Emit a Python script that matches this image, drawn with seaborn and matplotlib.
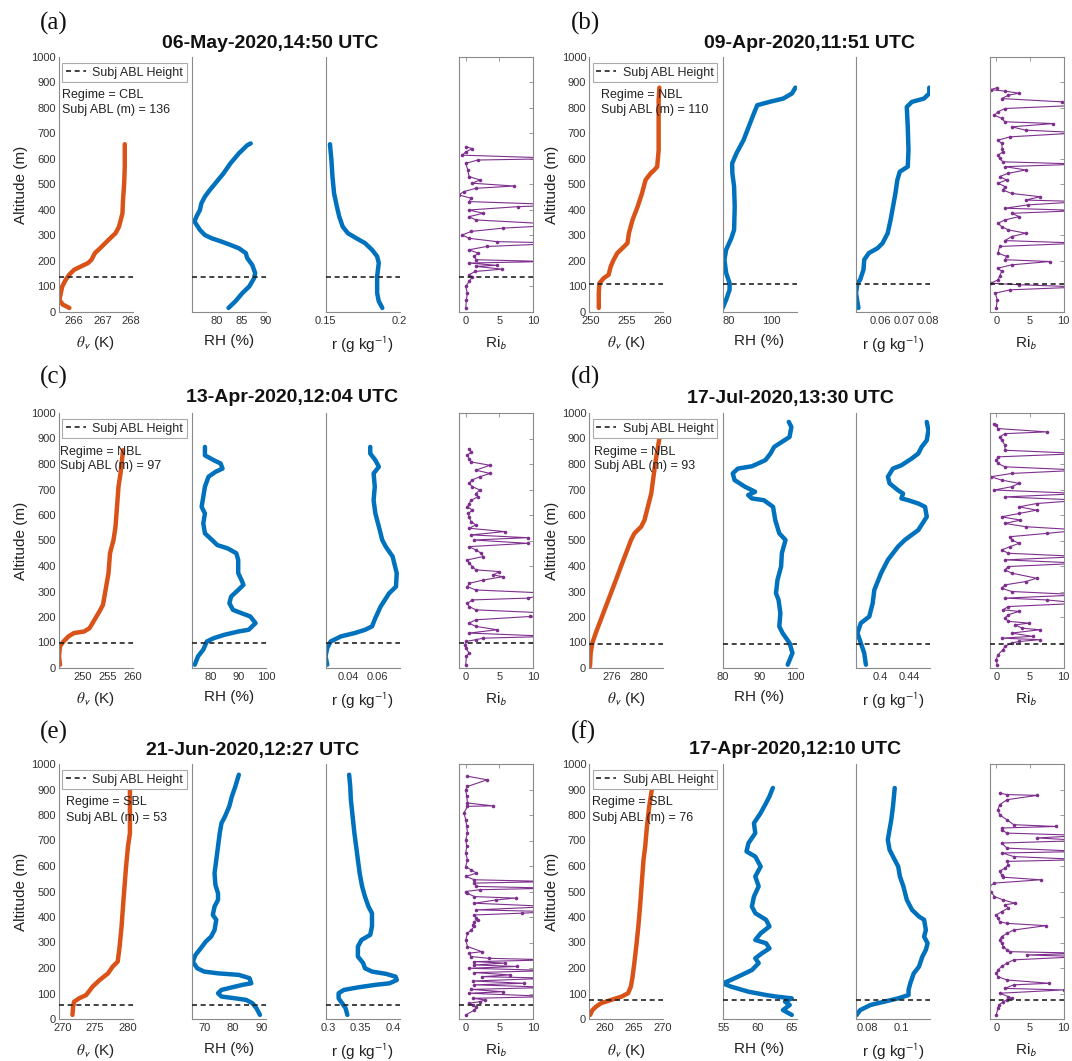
# ================================
# ABL PROFILES - SIX RADIOSONDE CASES
# ================================

import matplotlib
matplotlib.use("Agg")
import matplotlib.pyplot as plt
import seaborn as sns
from matplotlib.ticker import FuncFormatter

# --------------------------------
# Data
# --------------------------------

# (a) 06-May-2020
a_th_z = [16, 29, 48, 74, 100, 126, 146, 166, 179, 192, 205, 231, 250, 270, 290, 309, 335, 361, 387, 439, 505, 570, 658]
a_th = [265.85, 265.62, 265.5, 265.55, 265.6, 265.72, 265.84, 266.02, 266.26, 266.5, 266.62, 266.74, 266.92, 267.1,
        267.28, 267.46, 267.58, 267.64, 267.7, 267.72, 267.76, 267.78, 267.78]
a_rh_z = [16, 42, 74, 100, 133, 153, 185, 211, 231, 250, 263, 276, 289, 302, 322, 355, 374, 400, 426, 452, 478, 511,
          544, 583, 622, 654, 661]
a_rh = [82.4, 83.8, 85.2, 86.6, 87.6, 87.8, 87.2, 86.2, 85.9, 84.5, 82.8, 81.0, 79.0, 77.6, 76.6, 75.5, 75.9, 76.6,
        76.9, 77.6, 78.6, 80.0, 81.4, 82.8, 84.5, 86.2, 86.9]
a_r_z = [16, 42, 74, 140, 192, 218, 244, 270, 289, 309, 335, 374, 413, 465, 531, 596, 658]
a_r = [0.1884, 0.1860, 0.1849, 0.1849, 0.1860, 0.1849, 0.1814, 0.1767, 0.1709, 0.1651, 0.1616, 0.1593, 0.1577,
       0.1558, 0.1547, 0.1540, 0.1530]
a_ri_z = [16, 48, 74, 100, 120, 137, 146, 159, 168, 179, 183, 192, 198, 205, 218, 231, 244, 257, 270, 276, 289, 302,
          316, 329, 342, 361, 374, 387, 400, 413, 420, 433, 446, 459, 472, 485, 494, 505, 518, 531, 557, 583, 596,
          602, 615, 628, 641, 648]
a_ri = [0.0, 0.1, 0.25, 0.0, 0.5, 1.0, 0.5, 1.4, 5.4, 1.5, 4.6, 0.5, 12, 1.5, 1.3, 1.8, 0.5, 3.1, 15, 4.6, 0.5, -0.5,
        0.8, 5.6, 15, 1.5, 0.5, 2.6, 0.5, 7.7, 15, 0.5, 0.8, -1, -0.3, 1.5, 7.2, 1.0, 2.1, 0.5, 0.3, 0, 1.8, 15,
        -0.5, 0, 1.0, 0]

# (b) 09-Apr-2020
b_th_z = [16, 74, 113, 133, 146, 179, 205, 231, 250, 270, 309, 361, 413, 465, 518, 544, 557, 570, 635, 726, 831, 880]
b_th = [251.15, 251.15, 251.24, 251.84, 252.5, 252.8, 253.2, 253.7, 254.4, 255.1, 255.3, 255.8, 256.5, 257.1,
        257.6, 258.3, 258.8, 259.2, 259.4, 259.4, 259.4, 259.5]
b_rh_z = [16, 48, 87, 113, 153, 205, 244, 289, 322, 413, 492, 544, 583, 622, 674, 726, 778, 811, 824, 837, 857, 880]
b_rh = [77.1, 78.7, 80.3, 80.3, 78.7, 77.9, 78.7, 81.1, 82.4, 82.7, 82.4, 81.6, 81.5, 83.5, 86.8, 89.2, 91.6, 93.2,
        98.9, 105.3, 109.4, 111.0]
b_r_z = [16, 74, 113, 126, 166, 205, 231, 250, 270, 309, 361, 413, 465, 518, 550, 570, 635, 726, 804, 824, 837,
         857, 880]
b_r = [0.0510, 0.0500, 0.0506, 0.0517, 0.0531, 0.0534, 0.0553, 0.0589, 0.0610, 0.0631, 0.0643, 0.0653, 0.0663,
       0.0671, 0.0681, 0.0714, 0.0717, 0.0714, 0.0710, 0.0731, 0.0781, 0.0803, 0.0803]
b_ri_z = [16, 48, 74, 87, 98, 107, 113, 126, 140, 159, 172, 185, 198, 205, 218, 231, 257, 270, 280, 296, 309, 322,
          335, 348, 361, 374, 387, 398, 407, 420, 433, 439, 452, 465, 478, 492, 505, 518, 531, 544, 557, 570, 580,
          589, 602, 615, 628, 641, 661, 674, 687, 703, 713, 726, 739, 746, 759, 772, 785, 798, 811, 824, 837, 850,
          858, 866, 872, 880]
b_ri = [0, 0.15, -0.15, 2.1, 12.7, 3.4, -0.8, 0.26, 0.5, 0.8, 0.26, 2.3, 8.0, 1.3, 1.55, 0.26, 0.5, 12.7, 1.3, 2.3,
        4.4, 1.8, 0.8, 0.26, 1.3, 3.4, 2.3, 12.7, 1.3, 4.7, 12.7, 4.4, 6.5, 2.3, 1.0, 1.3, 0.26, 1.55, 0.5, 1.8,
        4.4, 1.3, 12.7, 1.0, 0.5, 0.26, 1.0, 0.9, 0.8, 0.26, 2.1, 12.7, 4.4, 2.3, 8.5, 1.3, 0.8, -0.26, 0.26, 1.3,
        12.7, 9.8, 0.8, 1.8, 3.4, 1.3, -0.8, 0.15]

# (c) 13-Apr-2020
c_th_z = [13, 46, 85, 104, 124, 137, 143, 156, 189, 222, 248, 293, 372, 450, 502, 554, 632, 711, 763, 815, 854]
c_th = [245.5, 245.3, 245.5, 246.2, 247.2, 248.3, 250.3, 251.4, 252.4, 253.4, 254.1, 254.5, 255.2, 255.5, 256.2,
        256.6, 256.9, 257.2, 257.6, 257.9, 258.1]
c_rh_z = [13, 46, 72, 104, 117, 130, 143, 150, 176, 202, 215, 228, 254, 280, 306, 326, 345, 372, 424, 450, 469, 482,
          502, 528, 567, 606, 632, 671, 711, 750, 769, 782, 802, 815, 834, 867]
c_rh = [74.1, 75.3, 77.2, 78.5, 81.0, 84.8, 89.9, 93.7, 96.2, 94.3, 91.1, 88.0, 86.7, 87.3, 89.9, 91.8, 91.1, 89.9,
        89.9, 89.2, 86.1, 82.3, 80.4, 77.8, 77.2, 77.8, 76.6, 77.2, 77.8, 79.1, 81.6, 84.2, 83.5, 81.0, 77.8, 77.8]
c_r_z = [13, 46, 78, 104, 124, 137, 150, 163, 196, 241, 293, 319, 372, 437, 476, 502, 554, 606, 658, 711, 763, 789,
         815, 841, 867]
c_r = [0.0259, 0.0247, 0.0259, 0.0282, 0.0353, 0.0447, 0.0518, 0.0565, 0.0588, 0.0624, 0.0682, 0.0729, 0.0734,
       0.0706, 0.0659, 0.0635, 0.0612, 0.0588, 0.0576, 0.0584, 0.0576, 0.0612, 0.0588, 0.0553, 0.0553]
c_ri_z = [13, 46, 59, 78, 91, 104, 111, 117, 124, 137, 150, 163, 176, 189, 202, 215, 228, 241, 254, 267, 274, 293,
          306, 319, 332, 345, 358, 365, 378, 385, 398, 411, 424, 437, 450, 463, 476, 489, 502, 511, 522, 535, 548,
          561, 574, 593, 606, 619, 632, 645, 658, 671, 684, 698, 711, 724, 737, 750, 763, 776, 795, 808, 821, 834,
          847, 860]
c_ri = [0, 0.1, 0.5, 0, -0.1, 0, 1.5, 2.6, 12.8, 0.5, 4.7, 1.5, 0.5, 1.5, 9.6, 12.8, 1.5, 0.5, 0.26, 1.0, 9.2, 12.8,
        1.5, 0.26, 0.5, 2.6, 5.5, 4.1, 5.0, 1.5, 1.0, 0.5, 0.26, 2.6, 2.3, 1.5, 0.5, 9.2, 1.2, 9.2, 0.8, 5.8, 0.5,
        1.5, 0.8, 0.5, 0.4, 1.0, 0.26, 0.5, 0.8, 1.8, 1.5, 2.1, 1.0, 0.5, 0.9, 2.1, 3.6, 1.5, 3.6, 0.8, 0.5, 0.26,
        0.8, 0.5]

# (d) 17-Jul-2020
d_th_z = [7, 59, 98, 137, 189, 241, 293, 345, 398, 450, 502, 528, 554, 580, 632, 684, 763, 828, 906]
d_th = [272.75, 272.85, 273.1, 273.6, 274.35, 275.1, 275.85, 276.6, 277.35, 278.1, 278.85, 279.35, 280.35, 280.85,
        281.35, 281.85, 282.25, 282.6, 283.1]
d_rh_z = [13, 59, 98, 137, 163, 215, 267, 293, 345, 398, 450, 502, 528, 580, 632, 658, 665, 678, 691, 711, 737, 763,
          782, 791, 815, 841, 867, 893, 906, 945, 965]
d_rh = [97.8, 99.1, 98.3, 96.4, 95.5, 95.8, 95.3, 94.6, 95.0, 96.0, 96.2, 97.2, 95.5, 94.4, 93.8, 91.3, 88.0, 87.0,
        88.9, 86.1, 83.3, 82.8, 84.2, 88.0, 91.7, 93.1, 94.1, 96.9, 98.3, 98.8, 98.1]
d_r_z = [13, 59, 98, 137, 176, 202, 254, 306, 372, 424, 476, 502, 541, 593, 632, 645, 658, 665, 684, 697, 724, 750,
         782, 795, 821, 841, 867, 893, 932, 965]
d_r = [0.3798, 0.3774, 0.3727, 0.3680, 0.3727, 0.3845, 0.3892, 0.3915, 0.4009, 0.4104, 0.4245, 0.4339, 0.4527,
       0.4645, 0.4621, 0.4527, 0.4386, 0.4292, 0.4315, 0.4245, 0.4127, 0.4104, 0.4174, 0.4292, 0.4433, 0.4527,
       0.4574, 0.4645, 0.4668, 0.4645]
d_ri_z = [13, 33, 52, 72, 85, 98, 104, 111, 117, 124, 137, 150, 156, 169, 176, 183, 196, 209, 222, 228, 241, 254,
          267, 274, 287, 300, 313, 326, 339, 352, 372, 385, 398, 411, 424, 437, 450, 463, 476, 489, 502, 515, 528,
          541, 554, 567, 580, 593, 606, 619, 632, 645, 658, 671, 684, 698, 711, 724, 737, 750, 763, 776, 789, 802,
          815, 828, 841, 854, 874, 893, 906, 919, 926, 939, 952, 958]
d_ri = [0.15, 0, 0.26, 1.0, 1.3, 2.3, 3.4, 6.5, 0.8, 5.4, 2.3, 6.5, 3.9, 2.8, 4.9, 1.8, 1.3, 1.8, 3.4, 1.0, 1.8,
        12.7, 7.5, 1.3, 12.7, 2.3, 0.8, 1.3, 4.4, 6.0, 2.3, 1.3, 1.8, 12.7, 1.3, 12.7, 1.8, 0.8, 2.1, 3.4, 2.3,
        2.1, 7.5, 12.7, 4.4, 1.3, 3.6, 0.8, 3.4, 6.0, 3.4, 6.0, 12.7, 1.3, 12.7, -0.26, 2.3, 3.4, 0.8, -0.8, 2.3,
        12.7, 1.3, 0.26, 0, 0.26, 12.7, 1.3, 1.3, 0.8, 0.5, 1.3, 7.5, 0.26, 0, -0.26]

# (e) 21-Jun-2020
e_th_z = [16, 48, 68, 81, 94, 127, 153, 179, 205, 225, 284, 363, 467, 598, 677, 729, 899]
e_th = [271.47, 271.57, 271.73, 272.5, 273.6, 274.6, 275.7, 277.0, 277.7, 278.5, 278.8, 279.1, 279.4, 279.8, 280.1,
        280.4, 280.4]
e_rh_z = [16, 42, 62, 75, 81, 88, 101, 114, 124, 134, 140, 160, 173, 179, 186, 199, 225, 251, 277, 304, 323, 349,
          389, 408, 441, 467, 493, 526, 572, 624, 677, 729, 768, 794, 834, 873, 912, 958]
e_rh = [89.3, 88.1, 86.7, 84.5, 80.8, 76.0, 74.8, 76.0, 79.6, 83.3, 86.3, 85.7, 82.0, 74.8, 70.0, 67.6, 66.1, 67.0,
        68.8, 70.6, 72.4, 73.6, 74.2, 73.0, 73.6, 74.8, 74.8, 73.9, 73.6, 74.2, 74.8, 75.4, 76.0, 77.2, 78.7, 79.6,
        80.8, 82.0]
e_r_z = [16, 42, 62, 81, 101, 114, 124, 134, 140, 153, 166, 177, 186, 199, 219, 245, 284, 310, 330, 363, 415, 441,
         480, 520, 572, 624, 677, 729, 794, 860, 912, 958]
e_r = [0.3297, 0.3270, 0.3216, 0.3162, 0.3162, 0.3243, 0.3459, 0.3730, 0.3946, 0.4058, 0.4040, 0.3892, 0.3676,
       0.3568, 0.3541, 0.3459, 0.3459, 0.3514, 0.3649, 0.3676, 0.3676, 0.3622, 0.3568, 0.3524, 0.3486, 0.3459,
       0.3432, 0.3405, 0.3378, 0.3351, 0.3341, 0.3324]
e_ri_z = [16, 35, 48, 55, 62, 68, 75, 81, 88, 101, 107, 116, 124, 134, 140, 149, 160, 166, 173, 182, 190, 199, 206,
          212, 219, 225, 232, 238, 245, 258, 264, 284, 310, 336, 349, 363, 369, 382, 389, 395, 408, 415, 421, 428,
          441, 454, 467, 474, 480, 493, 500, 507, 513, 520, 533, 539, 546, 559, 572, 585, 598, 624, 651, 677, 703,
          729, 755, 781, 808, 834, 836, 847, 873, 899, 912, 938, 952]
e_ri = [0, 1.3, 1.6, 1.05, 0.5, 2.1, 2.9, 1.05, 12.9, 0.5, 5.5, 0.8, 12.9, 1.3, 8.7, 1.05, 12.9, 2.4, 6.6, 1.3,
        12.9, 0.5, 7.6, 1.3, 5.8, 1.3, 12.9, 3.4, 0.8, 0.5, 2.4, 0.26, 0, 0.26, 0.8, 1.3, 1.05, 1.3, 1.8, 1.6, 1.3,
        8.4, 12.9, 1.6, 12.9, 1.3, 4.5, 7.4, 1.3, 0.26, 0, 2.1, 12.9, 1.6, 1.3, 12.9, 1.3, 0, 1.6, 0.8, 0, 0.26, 0,
        0.15, 0, 0.26, 0.15, 0, -0.26, 0.26, 4.0, 0.26, 0.15, 0, 0.26, 3.2, 0.26]

# (f) 17-Apr-2020
f_th_z = [16, 35, 48, 62, 75, 88, 101, 127, 166, 219, 297, 363, 441, 533, 624, 677, 755, 834, 906]
f_th = [257.4, 257.8, 258.4, 259.3, 261.1, 262.9, 264.0, 264.5, 264.8, 265.1, 265.5, 265.8, 266.1, 266.4, 266.7,
        267.0, 267.3, 267.7, 268.2]
f_rh_z = [16, 35, 55, 68, 81, 88, 94, 107, 127, 140, 153, 173, 192, 219, 238, 258, 277, 297, 310, 336, 363, 389, 415,
          441, 480, 520, 559, 598, 637, 657, 690, 729, 768, 808, 847, 873, 906]
f_rh = [65.0, 63.7, 64.7, 64.0, 65.0, 62.7, 61.2, 58.6, 56.0, 54.8, 56.0, 57.6, 59.1, 60.1, 59.6, 60.6, 61.7, 61.2,
        59.6, 60.4, 61.7, 61.2, 59.6, 59.1, 59.4, 60.1, 59.6, 60.4, 59.6, 58.3, 58.6, 59.6, 59.4, 60.4, 61.2, 61.7,
        62.2]
f_r_z = [16, 35, 55, 68, 81, 94, 114, 140, 179, 205, 245, 271, 297, 323, 349, 389, 402, 428, 467, 520, 559, 598, 637,
         664, 703, 742, 781, 834, 906]
f_r = [0.074, 0.076, 0.082, 0.090, 0.098, 0.104, 0.104, 0.105, 0.107, 0.110, 0.112, 0.114, 0.115, 0.113, 0.114,
       0.113, 0.110, 0.106, 0.103, 0.101, 0.099, 0.098, 0.095, 0.093, 0.092, 0.093, 0.094, 0.095, 0.096]
f_ri_z = [16, 42, 55, 68, 75, 81, 88, 101, 114, 120, 134, 140, 153, 166, 179, 192, 206, 219, 232, 245, 251, 258, 264,
          271, 284, 297, 310, 323, 336, 349, 366, 375, 382, 395, 408, 421, 435, 448, 454, 467, 480, 500, 520, 533,
          546, 556, 565, 579, 592, 605, 618, 625, 637, 651, 657, 670, 690, 700, 710, 720, 729, 742, 749, 755, 762,
          781, 801, 821, 840, 860, 877, 880, 886]
f_ri = [0, 0.26, 0.4, 1.05, 1.6, 2.4, 1.8, 0.5, 10, 1.3, 2.6, 7.9, 1.6, 0.26, 0, 0.26, 0.8, 1.6, 2.6, 13, 4.5, 13,
        2.0, 1.6, 1.05, 0.8, 0.5, 0.8, 1.6, 2.6, 7.4, 1.6, 0.5, 0.26, 0, 0.8, 1.8, 1.3, 2.8, 1.05, -0.26, -0.8,
        -1.05, -0.26, 6.6, 1.05, 0.8, 0.5, 1.3, 1.8, 1.6, 13, 2.6, 0.9, 13, 1.6, 0.8, 13, 6.1, 13, 1.6, 0.8, 0.9,
        8.9, 2.6, 1.6, 0.5, 0.26, 0.5, 1.6, 6.1, 1.6, 0.5]

titles = ["06-May-2020,14:50 UTC", "09-Apr-2020,11:51 UTC", "13-Apr-2020,12:04 UTC",
          "17-Jul-2020,13:30 UTC", "21-Jun-2020,12:27 UTC", "17-Apr-2020,12:10 UTC"]
letters = ["(a)", "(b)", "(c)", "(d)", "(e)", "(f)"]
regimes = ["CBL", "NBL", "NBL", "NBL", "SBL", "SBL"]
abl_heights = [136, 110, 97, 93, 53, 76]

# --------------------------------
# Axis limits / ticks per panel
# --------------------------------
th_lims = [(265.47, 268.05), (249.8, 260), (245.2, 260), (272.6, 283.6), (269.3, 280.8), (257.2, 270.1)]
th_ticks = [[266, 267, 268], [250, 255, 260], [250, 255, 260], [276, 280], [270, 275, 280], [260, 265, 270]]
rh_lims = [(75, 90), (77, 111.5), (73.1, 100), (80, 100.2), (65.8, 91.4), (54.75, 65.7)]
rh_ticks = [[80, 85, 90], [80, 100], [80, 90, 100], [80, 90, 100], [70, 80, 90], [55, 60, 65]]
r_lims = [(0.15, 0.2), (0.05, 0.0806), (0.0247, 0.0753), (0.366, 0.469), (0.296, 0.41), (0.0736, 0.1164)]
r_ticks = [[0.15, 0.2], [0.06, 0.07, 0.08], [0.04, 0.06], [0.4, 0.44], [0.3, 0.35, 0.4], [0.08, 0.1]]

profiles = [
    (a_th_z, a_th, a_rh_z, a_rh, a_r_z, a_r, a_ri_z, a_ri),
    (b_th_z, b_th, b_rh_z, b_rh, b_r_z, b_r, b_ri_z, b_ri),
    (c_th_z, c_th, c_rh_z, c_rh, c_r_z, c_r, c_ri_z, c_ri),
    (d_th_z, d_th, d_rh_z, d_rh, d_r_z, d_r, d_ri_z, d_ri),
    (e_th_z, e_th, e_rh_z, e_rh, e_r_z, e_r, e_ri_z, e_ri),
    (f_th_z, f_th, f_rh_z, f_rh, f_r_z, f_r, f_ri_z, f_ri),
]

# --------------------------------
# Visualization settings
# --------------------------------
sns.set_style("white")
plt.rcParams["font.family"] = ["Liberation Sans", "DejaVu Sans"]
plt.rcParams["mathtext.fontset"] = "stix"

ORANGE = "#D95319"
BLUE = "#0072BD"
PURPLE = "#7E2F8E"
GREY = "#8a8a8a"
TXT = "#333333"

W, H = 1072, 1061
fig = plt.figure(figsize=(W / 100, H / 100), dpi=100)

AXW, AXH, STEP = 74, 255, 133.5
col_x = [58.5, 589]
row_y = [57, 413, 764]
title_xy = [(270, 43), (809, 43), (292, 398), (790, 398), (253, 750), (795, 750)]
text_dx = [3, 12, 1, 5, 7, 3]

fmt = FuncFormatter(lambda v, p: f"{v:g}")


def style_axis(ax, xlim, xticks, xlabel, kind):
    ax.set_xlim(xlim)
    ax.set_ylim(0, 1000)
    ax.set_xticks(xticks)
    ax.xaxis.set_major_formatter(fmt)
    for s in ax.spines.values():
        s.set_color(GREY)
        s.set_linewidth(0.8)
    box = kind == "ri"
    if not box:
        ax.spines["top"].set_visible(False)
        ax.spines["right"].set_visible(False)
    ax.tick_params(direction="in", length=3, width=0.6, color=GREY, labelsize=8,
                   labelcolor=TXT, pad=3, top=box, right=box)
    if kind == "th":
        ax.set_yticks(range(0, 1001, 100))
        ax.tick_params(axis="y", pad=2)
        ax.set_ylabel("Altitude (m)", fontsize=11, color="#222222", labelpad=2)
    elif kind == "ri":
        ax.set_yticks(range(0, 1001, 100))
        ax.set_yticklabels([])
        ax.set_ylabel("")
    else:
        ax.set_yticks([])
        ax.set_ylabel("")
    ax.set_xlabel(xlabel, fontsize=11, color="#222222", labelpad=6)


for i in range(6):
    x0 = col_x[i % 2]
    y0 = row_y[i // 2]
    axes = []
    for k in range(4):
        ax = fig.add_axes([(x0 + k * STEP) / W, 1 - (y0 + AXH) / H, AXW / W, AXH / H])
        ax.set_facecolor("white")
        axes.append(ax)
    ax_th, ax_rh, ax_r, ax_ri = axes
    th_z, th, rh_z, rh, r_z, r, ri_z, ri = profiles[i]

    sns.lineplot(x=th, y=th_z, sort=False, estimator=None, color=ORANGE, linewidth=3.2, ax=ax_th)
    sns.lineplot(x=rh, y=rh_z, sort=False, estimator=None, color=BLUE, linewidth=3.2, ax=ax_rh)
    sns.lineplot(x=r, y=r_z, sort=False, estimator=None, color=BLUE, linewidth=3.2, ax=ax_r)
    sns.lineplot(x=ri, y=ri_z, sort=False, estimator=None, color=PURPLE, linewidth=0.8,
                 marker="o", markersize=2.6, markeredgewidth=0, ax=ax_ri)

    for k, ax in enumerate(axes):
        ax.axhline(abl_heights[i], color="#222222", linewidth=1.2, dashes=(3, 2.2), zorder=5,
                   label="Subj ABL Height" if k == 0 else None)

    style_axis(ax_th, th_lims[i], th_ticks[i], r"$\theta_{\mathsf{v}}$ (K)", "th")
    style_axis(ax_rh, rh_lims[i], rh_ticks[i], "RH (%)", "rh")
    style_axis(ax_r, r_lims[i], r_ticks[i], r"r (g kg$^{\mathsf{-1}}$)", "r")
    style_axis(ax_ri, (-1, 10), [0, 5, 10], r"Ri$_{\mathsf{b}}$", "ri")

    leg = ax_th.legend(loc="upper left", bbox_to_anchor=(0.05, 0.977), borderaxespad=0,
                       fontsize=9, frameon=True, fancybox=False, framealpha=1, edgecolor="#aaaaaa",
                       borderpad=0.3, handlelength=1.6, handletextpad=0.5)
    leg.get_frame().set_linewidth(0.8)
    leg.set_zorder(10)

    tx = text_dx[i] / AXW
    ax_th.text(tx, 1 - 38.5 / AXH, f"Regime = {regimes[i]}", transform=ax_th.transAxes,
               fontsize=9, color="#222222", va="center", ha="left", zorder=11)
    ax_th.text(tx, 1 - 53.5 / AXH, f"Subj ABL (m) = {abl_heights[i]}", transform=ax_th.transAxes,
               fontsize=9, color="#222222", va="center", ha="left", zorder=11)

    cx, cy = title_xy[i]
    fig.text(cx / W, 1 - cy / H, titles[i], ha="center", va="center", fontsize=14,
             fontweight="bold", color="#111111")
    lx = 40 if i % 2 == 0 else 571
    ly = [23, 377, 732][i // 2]
    fig.text(lx / W, 1 - ly / H, letters[i], ha="left", va="center", fontsize=18,
             family=["Liberation Serif", "DejaVu Serif"], color="#111111")

fig.savefig("out.png", dpi=100)
